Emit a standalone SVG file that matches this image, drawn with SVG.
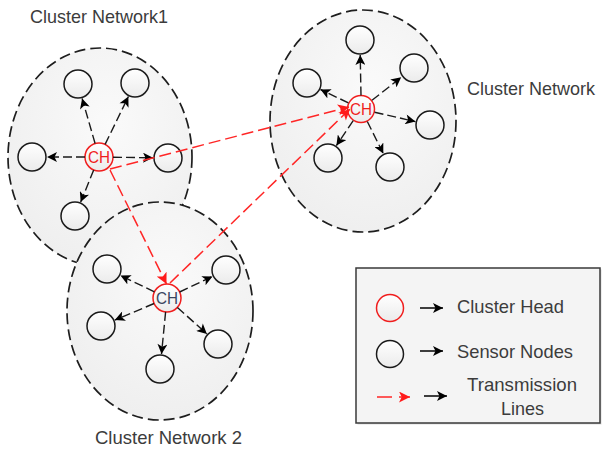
<svg xmlns="http://www.w3.org/2000/svg" width="603" height="450" viewBox="0 0 603 450">
  <style>
    .cluster { stroke: #1e1e1e; stroke-width: 1.7; stroke-dasharray: 11 5; fill: url(#clusterFill); }
    .sensor { stroke: #1a1a1a; stroke-width: 1.5; fill: url(#nodeFill); }
    .head { stroke: #f01e1e; stroke-width: 1.5; fill: url(#nodeFill); }
    .link { stroke: #1a1a1a; stroke-width: 1.4; stroke-dasharray: 9 4; fill: none; marker-end: url(#arrowBlack); }
    .tx { stroke: #ff2626; stroke-width: 1.5; stroke-dasharray: 12 5; fill: none; marker-end: url(#arrowRed); }
    .label { font-family: "Liberation Sans", Arial, sans-serif; font-size: 19px; fill: #3c3c3c; }
    .ch { font-family: "Liberation Sans", Arial, sans-serif; font-size: 16px; text-anchor: middle; }
  </style>
  <defs>
    <radialGradient id="clusterFill" cx="0.55" cy="0.35" r="0.7">
      <stop offset="0" stop-color="#fafafa"/>
      <stop offset="1" stop-color="#eeeeee"/>
    </radialGradient>
    <linearGradient id="nodeFill" x1="0" y1="0" x2="0" y2="1">
      <stop offset="0" stop-color="#ffffff"/>
      <stop offset="1" stop-color="#ebebeb"/>
    </linearGradient>
    <marker id="arrowBlack" viewBox="0 0 10 10" refX="10" refY="5" markerWidth="11" markerHeight="10" markerUnits="userSpaceOnUse" orient="auto">
      <path d="M0,0 L10,5 L0,10 L2.5,5 Z" fill="#000"/>
    </marker>
    <marker id="arrowRed" viewBox="0 0 10 10" refX="10" refY="5" markerWidth="12" markerHeight="11" markerUnits="userSpaceOnUse" orient="auto">
      <path d="M0,0 L10,5 L0,10 L2.5,5 Z" fill="#ff1a1a"/>
    </marker>
  </defs>

  <rect width="603" height="450" fill="#ffffff"/>

  <!-- cluster regions -->
  <g id="cluster-network-1-area">
    <ellipse class="cluster" cx="100" cy="157" rx="92" ry="109"/>
  </g>
  <g id="cluster-network-2-area">
    <ellipse class="cluster" cx="160" cy="311" rx="93" ry="109"/>
  </g>
  <g id="cluster-network-area">
    <ellipse class="cluster" cx="363" cy="121" rx="93" ry="111"/>
  </g>

  <!-- cluster 1 nodes -->
  <g id="ch1"><circle class="head" cx="99" cy="157" r="14"/><text class="ch" x="99" y="163" fill="#f01e1e" textLength="22" lengthAdjust="spacingAndGlyphs">CH</text></g>
  <g id="c1-n1"><circle class="sensor" cx="78" cy="84" r="14"/></g>
  <g id="c1-n2"><circle class="sensor" cx="135" cy="83" r="14"/></g>
  <g id="c1-n3"><circle class="sensor" cx="32" cy="157" r="14"/></g>
  <g id="c1-n4"><circle class="sensor" cx="168" cy="158" r="14"/></g>
  <g id="c1-n5"><circle class="sensor" cx="75" cy="216" r="14"/></g>

  <!-- cluster 2 nodes -->
  <g id="ch2"><circle class="head" cx="167" cy="298" r="14"/><text class="ch" x="167" y="304" fill="#3a4560" textLength="22" lengthAdjust="spacingAndGlyphs">CH</text></g>
  <g id="c2-n1"><circle class="sensor" cx="107" cy="269" r="14"/></g>
  <g id="c2-n2"><circle class="sensor" cx="226" cy="270" r="14"/></g>
  <g id="c2-n3"><circle class="sensor" cx="101" cy="326" r="14"/></g>
  <g id="c2-n4"><circle class="sensor" cx="218" cy="344" r="14"/></g>
  <g id="c2-n5"><circle class="sensor" cx="160" cy="369" r="14"/></g>

  <!-- cluster 3 nodes -->
  <g id="ch3"><circle class="head" cx="361" cy="109" r="13.5"/><text class="ch" x="361" y="115" fill="#f01e1e" textLength="22" lengthAdjust="spacingAndGlyphs">CH</text></g>
  <g id="c3-n1"><circle class="sensor" cx="360" cy="40" r="14"/></g>
  <g id="c3-n2"><circle class="sensor" cx="414" cy="68" r="14"/></g>
  <g id="c3-n3"><circle class="sensor" cx="307" cy="83" r="14"/></g>
  <g id="c3-n4"><circle class="sensor" cx="430" cy="125" r="14"/></g>
  <g id="c3-n5"><circle class="sensor" cx="328" cy="158" r="14"/></g>
  <g id="c3-n6"><circle class="sensor" cx="390" cy="167" r="14"/></g>

  <!-- connectors -->
  <g id="connectors">
    <line class="link" x1="95.1" y1="143.5" x2="82.1" y2="98.4"/>
    <line class="link" x1="105.1" y1="144.4" x2="128.4" y2="96.5"/>
    <line class="link" x1="85" y1="157" x2="47" y2="157"/>
    <line class="link" x1="113" y1="157.2" x2="153" y2="157.8"/>
    <line class="link" x1="93.7" y1="170" x2="80.7" y2="202.1"/>

    <line class="link" x1="154.4" y1="291.9" x2="120.5" y2="275.5"/>
    <line class="link" x1="179.6" y1="292" x2="212.5" y2="276.4"/>
    <line class="link" x1="154.1" y1="303.5" x2="114.8" y2="320.1"/>
    <line class="link" x1="177.4" y1="307.4" x2="206.9" y2="334"/>
    <line class="link" x1="165.6" y1="311.9" x2="161.5" y2="354.1"/>

    <line class="link" x1="361" y1="95.5" x2="360.2" y2="55"/>
    <line class="link" x1="372" y1="100.3" x2="401.2" y2="77.3"/>
    <line class="link" x1="348.4" y1="102.9" x2="320.5" y2="89.5"/>
    <line class="link" x1="374.6" y1="112.2" x2="415.4" y2="121.6"/>
    <line class="link" x1="353.2" y1="120.6" x2="336.4" y2="145.6"/>
    <line class="link" x1="367.3" y1="121.5" x2="383.3" y2="153.6"/>

    <line class="tx" x1="110" y1="169" x2="349" y2="107"/>
    <line class="tx" x1="110" y1="170" x2="166.5" y2="284"/>
    <line class="tx" x1="170" y1="283" x2="350" y2="109"/>
  </g>

  <!-- titles -->
  <text class="label" x="30" y="23" textLength="138" lengthAdjust="spacingAndGlyphs">Cluster Network1</text>
  <text class="label" x="467" y="95" textLength="128" lengthAdjust="spacingAndGlyphs">Cluster Network</text>
  <text class="label" x="95" y="444" textLength="147" lengthAdjust="spacingAndGlyphs">Cluster Network 2</text>

  <!-- legend -->
  <g id="legend">
    <rect x="357.5" y="269.5" width="244" height="155" fill="#dcdcdc"/>
    <rect x="356" y="268" width="244" height="155" fill="#f4f4f4" stroke="#3a3a3a" stroke-width="1.5"/>
    <circle cx="390" cy="308" r="13.5" fill="url(#nodeFill)" stroke="#f01e1e" stroke-width="1.5"/>
    <line x1="420" y1="308" x2="443" y2="308" stroke="#000" stroke-width="1.5" marker-end="url(#arrowBlack)"/>
    <text class="label" x="457" y="313" textLength="107" lengthAdjust="spacingAndGlyphs">Cluster Head</text>
    <circle cx="390" cy="354" r="13.5" fill="url(#nodeFill)" stroke="#1a1a1a" stroke-width="1.5"/>
    <line x1="420" y1="351" x2="443" y2="351" stroke="#000" stroke-width="1.5" marker-end="url(#arrowBlack)"/>
    <text class="label" x="457" y="358" textLength="116" lengthAdjust="spacingAndGlyphs">Sensor Nodes</text>
    <line x1="377" y1="397" x2="410" y2="397" stroke="#ff2626" stroke-width="1.5" stroke-dasharray="15 7" marker-end="url(#arrowRed)"/>
    <line x1="424" y1="396" x2="447" y2="396" stroke="#000" stroke-width="1.5" marker-end="url(#arrowBlack)"/>
    <text class="label" x="467" y="391" textLength="110" lengthAdjust="spacingAndGlyphs">Transmission</text>
    <text class="label" x="501" y="415" textLength="43" lengthAdjust="spacingAndGlyphs">Lines</text>
  </g>
</svg>
